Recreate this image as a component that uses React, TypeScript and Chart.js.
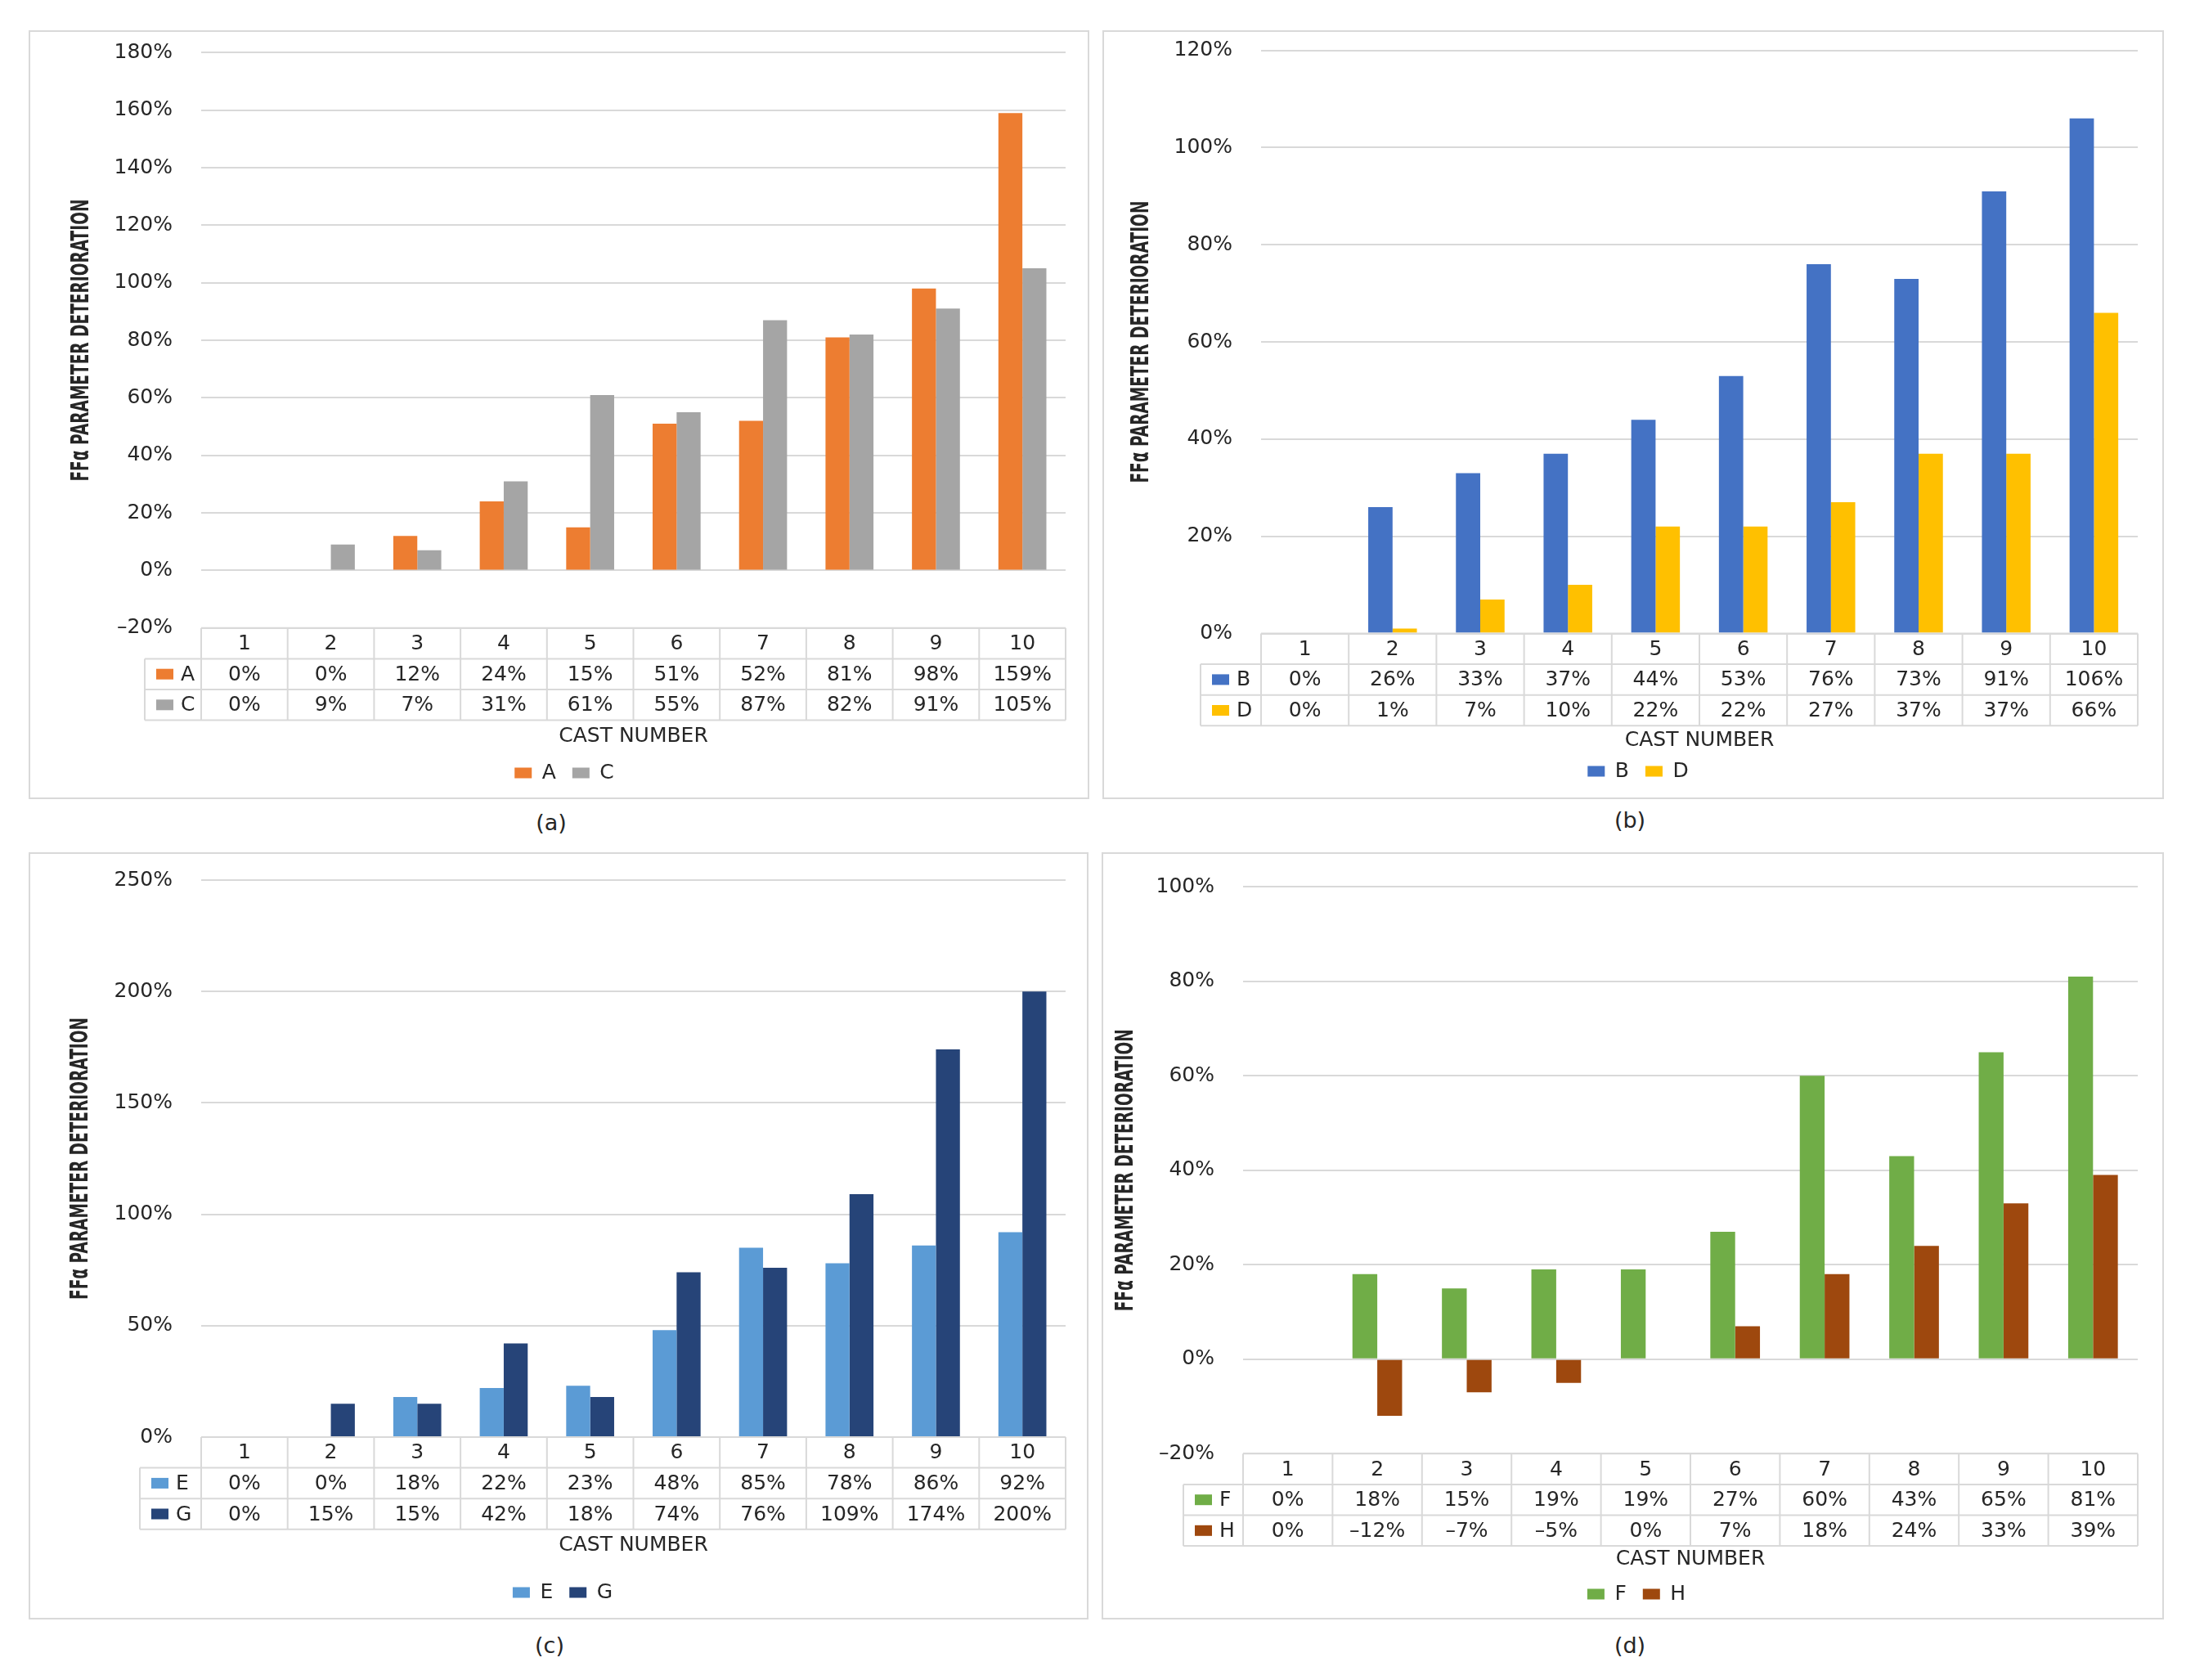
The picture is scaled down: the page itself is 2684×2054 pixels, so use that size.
import { useEffect, useRef } from "react";
import { Chart, registerables } from "chart.js";
import type { ChartConfiguration, Plugin } from "chart.js";

Chart.register(...registerables);

// cast numbers shared by all four panels
const castNumbers = ["1", "2", "3", "4", "5", "6", "7", "8", "9", "10"];

// FFα parameter deterioration, % (values from the data tables)
const seriesA = [0, 0, 12, 24, 15, 51, 52, 81, 98, 159];
const seriesC = [0, 9, 7, 31, 61, 55, 87, 82, 91, 105];
const seriesB = [0, 26, 33, 37, 44, 53, 76, 73, 91, 106];
const seriesD = [0, 1, 7, 10, 22, 22, 27, 37, 37, 66];
const seriesE = [0, 0, 18, 22, 23, 48, 85, 78, 86, 92];
const seriesG = [0, 15, 15, 42, 18, 74, 76, 109, 174, 200];
const seriesF = [0, 18, 15, 19, 19, 27, 60, 43, 65, 81];
const seriesH = [0, -12, -7, -5, 0, 7, 18, 24, 33, 39];

const Y_TITLE = "FF\u03b1 PARAMETER DETERIORATION";

const TEXT = "#262626";
const GRID = "#d9d9d9";
const FONT = '"DejaVu Sans", sans-serif';
const FONT_SIZE = 25;
const TITLE_SIZE = 31;
const TITLE_LEN = 345; // the title is squeezed to this length, like the original
const LEGEND_PAD = 20;
const ROW_H = 37.6;

const fmt = (v: number) => (v < 0 ? "\u2013" : "") + Math.abs(v) + "%";

interface Series {
  label: string;
  data: number[];
  color: string;
}

interface PanelSpec {
  caption: string;
  series: Series[];
  yMin: number;
  yMax: number;
  yStep: number;
  // page coordinates (px)
  box: { x: number; y: number; w: number; h: number };
  plotLeft: number;
  plotRight: number;
  plotTop: number;
  plotBottom: number;
  keyLeft: number;
  castY: number;
  legendX: number;
  legendY: number;
  titleX: number;
  captionX: number;
  captionY: number;
}

const panels: PanelSpec[] = [
  {
    caption: "(a)",
    series: [
      { label: "A", data: seriesA, color: "#ed7d31" },
      { label: "C", data: seriesC, color: "#a5a5a5" },
    ],
    yMin: -20, yMax: 180, yStep: 20,
    box: { x: 35, y: 37, w: 1297, h: 940 },
    plotLeft: 246, plotRight: 1303, plotTop: 64.3, plotBottom: 767.8,
    keyLeft: 177, castY: 900, legendX: 690, legendY: 945, titleX: 99,
    captionX: 674, captionY: 1006,
  },
  {
    caption: "(b)",
    series: [
      { label: "B", data: seriesB, color: "#4472c4" },
      { label: "D", data: seriesD, color: "#ffc000" },
    ],
    yMin: 0, yMax: 120, yStep: 20,
    box: { x: 1348, y: 37, w: 1298, h: 940 },
    plotLeft: 1542, plotRight: 2614, plotTop: 61.7, plotBottom: 774.5,
    keyLeft: 1468, castY: 905, legendX: 2003, legendY: 943, titleX: 1395,
    captionX: 1993, captionY: 1003,
  },
  {
    caption: "(c)",
    series: [
      { label: "E", data: seriesE, color: "#5b9bd5" },
      { label: "G", data: seriesG, color: "#264478" },
    ],
    yMin: 0, yMax: 250, yStep: 50,
    box: { x: 35, y: 1042, w: 1296, h: 938 },
    plotLeft: 246, plotRight: 1303, plotTop: 1076, plotBottom: 1757,
    keyLeft: 171, castY: 1889, legendX: 688, legendY: 1947, titleX: 97.5,
    captionX: 672, captionY: 2012,
  },
  {
    caption: "(d)",
    series: [
      { label: "F", data: seriesF, color: "#70ad47" },
      { label: "H", data: seriesH, color: "#9e480e" },
    ],
    yMin: -20, yMax: 100, yStep: 20,
    box: { x: 1347, y: 1042, w: 1299, h: 938 },
    plotLeft: 1520, plotRight: 2614, plotTop: 1084.3, plotBottom: 1777.3,
    keyLeft: 1447, castY: 1906, legendX: 2001, legendY: 1949, titleX: 1376,
    captionX: 1993, captionY: 2012,
  },
];

// Excel-style data table under the plot, aligned on the x scale
function dataTable(keyLeft: number): Plugin<"bar"> {
  return {
    id: "dataTable",
    afterDraw(chart) {
      const { ctx, chartArea } = chart;
      const x = chart.scales.x;
      const labels = chart.data.labels as string[];
      const sets = chart.data.datasets;
      const colW = x.getPixelForValue(1) - x.getPixelForValue(0);
      const left = x.getPixelForValue(0) - colW / 2;
      const right = x.getPixelForValue(labels.length - 1) + colW / 2;
      const top = chartArea.bottom;
      const bottom = top + ROW_H * (sets.length + 1);

      ctx.save();
      ctx.strokeStyle = GRID;
      ctx.lineWidth = 2;
      ctx.beginPath();
      ctx.moveTo(left, top);
      ctx.lineTo(right, top);
      for (let r = 1; r <= sets.length + 1; r++) {
        ctx.moveTo(keyLeft, top + r * ROW_H);
        ctx.lineTo(right, top + r * ROW_H);
      }
      for (let i = 0; i <= labels.length; i++) {
        ctx.moveTo(left + i * colW, top);
        ctx.lineTo(left + i * colW, bottom);
      }
      ctx.moveTo(keyLeft, top + ROW_H);
      ctx.lineTo(keyLeft, bottom);
      ctx.stroke();

      ctx.font = `${FONT_SIZE}px ${FONT}`;
      ctx.fillStyle = TEXT;
      ctx.textBaseline = "middle";
      ctx.textAlign = "center";
      labels.forEach((lab, i) => {
        ctx.fillText(lab, x.getPixelForValue(i), top + ROW_H / 2 + 1);
      });

      sets.forEach((ds, r) => {
        const yMid = top + ROW_H * (r + 1.5) + 1;
        ctx.fillStyle = ds.backgroundColor as string;
        ctx.fillRect(keyLeft + 14, yMid - 7.5, 21, 13);
        ctx.fillStyle = TEXT;
        ctx.textAlign = "left";
        ctx.fillText(ds.label ?? "", keyLeft + 44, yMid);
        ctx.textAlign = "center";
        (ds.data as number[]).forEach((v, i) => {
          ctx.fillText(fmt(v), x.getPixelForValue(i), yMid);
        });
      });
      ctx.restore();
    },
  };
}

// rotated y-axis title, condensed to the original's length
function yTitle(titleX: number): Plugin<"bar"> {
  return {
    id: "yTitle",
    afterDraw(chart) {
      const { ctx, chartArea } = chart;
      ctx.save();
      ctx.translate(titleX, (chartArea.top + chartArea.bottom) / 2);
      ctx.rotate(-Math.PI / 2);
      ctx.font = `bold ${TITLE_SIZE}px ${FONT}`;
      ctx.fillStyle = TEXT;
      ctx.textAlign = "center";
      ctx.textBaseline = "middle";
      ctx.fillText(Y_TITLE, 0, 1, TITLE_LEN);
      ctx.restore();
    },
  };
}

function buildConfig(p: PanelSpec): ChartConfiguration<"bar"> {
  const ox = p.box.x;
  const oy = p.box.y;
  const padRight = ox + p.box.w - p.plotRight;
  const padLeft = 2 * (p.legendX - ox) - (p.plotRight - ox);
  const legendTop = p.legendY - oy - LEGEND_PAD - FONT_SIZE / 2;
  const legendH = FONT_SIZE + LEGEND_PAD + 10;
  const padBottom = p.box.h - legendTop - legendH;
  const xAxisH = legendTop - (p.plotBottom - oy);
  const castPad = legendTop - (p.castY - oy) - FONT_SIZE / 2;
  const yAxisW = p.plotLeft - ox - padLeft;
  const font = { family: FONT, size: FONT_SIZE, lineHeight: 1 };

  return {
    type: "bar",
    data: {
      labels: castNumbers,
      datasets: p.series.map((s) => ({
        label: s.label,
        data: s.data,
        backgroundColor: s.color,
        borderWidth: 0,
        barPercentage: 1,
        categoryPercentage: 0.555,
      })),
    },
    options: {
      responsive: true,
      maintainAspectRatio: false,
      animation: false,
      layout: {
        padding: { left: padLeft, right: padRight, top: p.plotTop - oy, bottom: padBottom },
      },
      plugins: {
        tooltip: { enabled: false },
        legend: {
          position: "bottom",
          labels: {
            font,
            color: TEXT,
            boxWidth: 21,
            boxHeight: 13,
            padding: LEGEND_PAD,
          },
        },
      },
      scales: {
        x: {
          grid: { display: false },
          border: { display: false },
          ticks: { display: false },
          title: {
            display: true,
            text: "CAST NUMBER",
            color: TEXT,
            font,
            padding: { top: 0, bottom: castPad },
          },
          afterFit: (scale) => {
            scale.height = xAxisH;
          },
        },
        y: {
          min: p.yMin,
          max: p.yMax,
          // the gap between labels and plot comes from an invisible tick mark,
          // so it does not push the plot area down
          grid: { color: GRID, lineWidth: 2, drawTicks: true, tickLength: 35, tickColor: "rgba(0,0,0,0)" },
          border: { display: false },
          ticks: {
            stepSize: p.yStep,
            color: TEXT,
            font,
            padding: 0,
            callback: (v) => fmt(Number(v)),
          },
          afterFit: (scale) => {
            scale.width = yAxisW;
          },
        },
      },
    },
    plugins: [dataTable(p.keyLeft - ox), yTitle(p.titleX - ox)],
  };
}

function Panel({ spec }: { spec: PanelSpec }) {
  const canvasRef = useRef<HTMLCanvasElement>(null);

  useEffect(() => {
    if (!canvasRef.current) return;
    const chart = new Chart(canvasRef.current, buildConfig(spec));
    return () => {
      chart.destroy();
    };
  }, [spec]);

  const { box } = spec;
  return (
    <>
      <div
        style={{
          position: "absolute",
          left: box.x,
          top: box.y,
          width: box.w,
          height: box.h,
          border: `2px solid ${GRID}`,
          boxSizing: "border-box",
        }}
      />
      <div style={{ position: "absolute", left: box.x, top: box.y, width: box.w, height: box.h }}>
        <canvas ref={canvasRef} />
      </div>
      <div
        style={{
          position: "absolute",
          left: spec.captionX - 60,
          top: spec.captionY - 16,
          width: 120,
          height: 32,
          lineHeight: "32px",
          textAlign: "center",
          fontFamily: FONT,
          fontSize: 27,
          color: TEXT,
        }}
      >
        {spec.caption}
      </div>
    </>
  );
}

export default function App() {
  return (
    <div
      style={{
        position: "absolute",
        left: 0,
        top: 0,
        width: 2684,
        height: 2054,
        background: "#ffffff",
        overflow: "hidden",
      }}
    >
      {panels.map((p) => (
        <Panel key={p.caption} spec={p} />
      ))}
    </div>
  );
}
